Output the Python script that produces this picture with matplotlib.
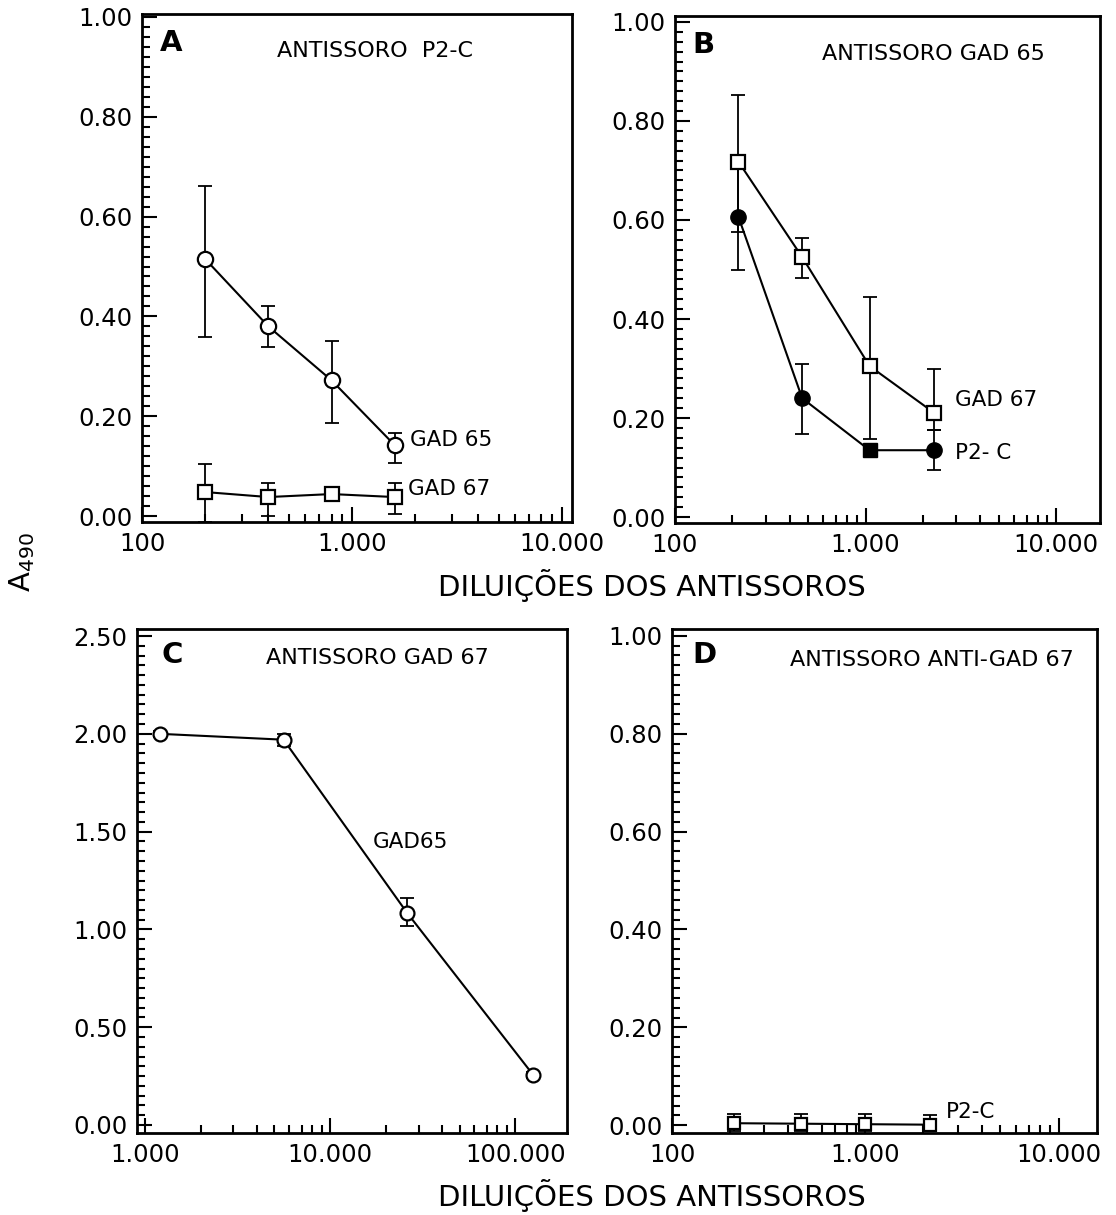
import numpy as np
import matplotlib
matplotlib.use("Agg")
import matplotlib.pyplot as plt
from matplotlib.ticker import FixedLocator, MultipleLocator, LogLocator, NullFormatter, FixedFormatter

# -----------------------------
# Data
# -----------------------------
# Panel A - antissoro P2-C
a_dil = [200, 400, 800, 1600]
a_gad65 = [0.515, 0.380, 0.272, 0.142]
a_gad65_lo = [0.358, 0.338, 0.186, 0.106]
a_gad65_hi = [0.662, 0.420, 0.350, 0.166]
a_gad67 = [0.048, 0.038, 0.044, 0.038]
a_gad67_lo = [-0.012, 0.000, 0.038, 0.004]
a_gad67_hi = [0.104, 0.066, 0.050, 0.066]

# Panel B - antissoro GAD 65
b_dil = [215, 465, 1050, 2300]
b_gad67 = [0.718, 0.525, 0.305, 0.210]
b_gad67_lo = [0.575, 0.482, 0.157, 0.176]
b_gad67_hi = [0.852, 0.563, 0.444, 0.300]
b_p2c = [0.607, 0.240, 0.135, 0.135]
b_p2c_lo = [0.500, 0.168, 0.128, 0.095]
b_p2c_hi = [0.710, 0.310, 0.142, 0.176]
b_p2c_markers = ["o", "o", "s", "o"]

# Panel C - antissoro GAD 67
c_dil = [1200, 5600, 26000, 125000]
c_gad65 = [2.000, 1.970, 1.085, 0.255]
c_gad65_lo = [1.985, 1.940, 1.015, 0.240]
c_gad65_hi = [2.015, 2.000, 1.160, 0.270]

# Panel D - antissoro anti-GAD 67
d_dil = [210, 465, 995, 2165]
d_p2c = [0.004, 0.003, 0.002, 0.001]
d_p2c_lo = [-0.012, -0.012, -0.012, -0.012]
d_p2c_hi = [0.022, 0.022, 0.022, 0.020]

y_ticks_small = [0.0, 0.2, 0.4, 0.6, 0.8, 1.0]
y_labels_small = ["0.00", "0.20", "0.40", "0.60", "0.80", "1.00"]
y_ticks_c = [0.0, 0.5, 1.0, 1.5, 2.0, 2.5]
y_labels_c = ["0.00", "0.50", "1.00", "1.50", "2.00", "2.50"]
x_ticks_small = [100, 1000, 10000]
x_labels_small = ["100", "1.000", "10.000"]
x_ticks_c = [1000, 10000, 100000]
x_labels_c = ["1.000", "10.000", "100.000"]

# -----------------------------
# Figure layout
# -----------------------------
W, H = 1116, 1215
plt.rcParams["font.family"] = ["DejaVu Sans"]
fig = plt.figure(figsize=(W / 100, H / 100), dpi=100)


def px_axes(left, right, top, bottom):
    return fig.add_axes([left / W, (H - bottom) / H, (right - left) / W, (bottom - top) / H])


def style_axes(ax, xlim, ylim, xt, xl, yt, yl, yminor):
    ax.set_xscale("log")
    ax.set_xlim(*xlim)
    ax.set_ylim(*ylim)
    ax.xaxis.set_major_locator(FixedLocator(xt))
    ax.xaxis.set_major_formatter(FixedFormatter(xl))
    ax.xaxis.set_minor_locator(LogLocator(base=10, subs=np.arange(2, 10)))
    ax.xaxis.set_minor_formatter(NullFormatter())
    ax.yaxis.set_major_locator(FixedLocator(yt))
    ax.yaxis.set_major_formatter(FixedFormatter(yl))
    ax.yaxis.set_minor_locator(MultipleLocator(yminor))
    ax.tick_params(which="both", direction="in", width=1.5, labelsize=17.5)
    ax.tick_params(which="major", length=11, pad=7)
    ax.tick_params(which="minor", length=6)
    ax.tick_params(axis="x", which="major", pad=7)
    for s in ax.spines.values():
        s.set_linewidth(2.0)


def draw_series(ax, x, y, lo, hi, marker, filled=False, ms=11):
    y = np.array(y)
    err = [y - np.array(lo), np.array(hi) - y]
    ax.errorbar(x, y, yerr=err, fmt="none", ecolor="black", elinewidth=1.3,
                capsize=5, capthick=1.3, zorder=2)
    ax.plot(x, y, color="black", lw=1.5, zorder=3)
    ax.plot(x, y, ls="none", marker=marker, ms=ms, mec="black", mew=1.6,
            mfc="black" if filled else "white", zorder=4)


title_kw = dict(fontsize=16, ha="center", va="center", color="black")
note_kw = dict(fontsize=15.5, va="center", color="black")
letter_kw = dict(fontsize=21, fontweight="bold", va="center", ha="left")

# Panel A
axA = px_axes(142, 572, 14, 522)
style_axes(axA, (100, 11200), (-0.012, 1.006), x_ticks_small, x_labels_small,
           y_ticks_small, y_labels_small, 0.02)
draw_series(axA, a_dil, a_gad65, a_gad65_lo, a_gad65_hi, "o")
draw_series(axA, a_dil, a_gad67, a_gad67_lo, a_gad67_hi, "s", ms=10)
axA.text(0.042, 0.943, "A", transform=axA.transAxes, **letter_kw)
axA.text(0.542, 0.927, "ANTISSORO  P2-C", transform=axA.transAxes, **title_kw)
axA.text(1890, 0.152, "GAD 65", **note_kw)
axA.text(1850, 0.054, "GAD 67", **note_kw)

# Panel B
axB = px_axes(675, 1100, 16, 523)
style_axes(axB, (100, 17000), (-0.012, 1.012), x_ticks_small, x_labels_small,
           y_ticks_small, y_labels_small, 0.02)
draw_series(axB, b_dil, b_gad67, b_gad67_lo, b_gad67_hi, "s", ms=10)
b_y = np.array(b_p2c)
axB.errorbar(b_dil, b_y, yerr=[b_y - np.array(b_p2c_lo), np.array(b_p2c_hi) - b_y],
             fmt="none", ecolor="black", elinewidth=1.3, capsize=5, capthick=1.3, zorder=2)
axB.plot(b_dil, b_p2c, color="black", lw=1.5, zorder=3)
for xx, yy, mk in zip(b_dil, b_p2c, b_p2c_markers):
    axB.plot(xx, yy, marker=mk, ms=11 if mk == "o" else 10, color="black", zorder=4)
axB.text(0.042, 0.943, "B", transform=axB.transAxes, **letter_kw)
axB.text(0.607, 0.925, "ANTISSORO GAD 65", transform=axB.transAxes, **title_kw)
axB.text(2950, 0.236, "GAD 67", **note_kw)
axB.text(2950, 0.129, "P2- C", **note_kw)

# Panel C
axC = px_axes(137, 567, 629, 1133)
style_axes(axC, (905, 190000), (-0.041, 2.536), x_ticks_c, x_labels_c,
           y_ticks_c, y_labels_c, 0.05)
draw_series(axC, c_dil, c_gad65, c_gad65_lo, c_gad65_hi, "o", ms=10)
axC.text(0.058, 0.948, "C", transform=axC.transAxes, **letter_kw)
axC.text(0.558, 0.942, "ANTISSORO GAD 67", transform=axC.transAxes, **title_kw)
axC.text(17000, 1.447, "GAD65", **note_kw)

# Panel D
axD = px_axes(672, 1097, 629, 1133)
style_axes(axD, (100, 15800), (-0.016, 1.014), x_ticks_small, x_labels_small,
           y_ticks_small, y_labels_small, 0.02)
draw_series(axD, d_dil, d_p2c, d_p2c_lo, d_p2c_hi, "s", ms=8)
axD.text(0.049, 0.948, "D", transform=axD.transAxes, **letter_kw)
axD.text(0.612, 0.938, "ANTISSORO ANTI-GAD 67", transform=axD.transAxes, **title_kw)
axD.text(2610, 0.027, "P2-C", **note_kw)

# Shared labels
fig.text(652 / W, 1 - 586 / H, "DILUIÇÕES DOS ANTISSOROS", ha="center", va="center", fontsize=21)
fig.text(652 / W, 1 - 1196 / H, "DILUIÇÕES DOS ANTISSOROS", ha="center", va="center", fontsize=21)
fig.text(22 / W, 1 - 562 / H, r"A$_{\mathregular{490}}$", rotation=90, ha="center", va="center", fontsize=21)

fig.savefig("out.png", dpi=100, facecolor="white")
